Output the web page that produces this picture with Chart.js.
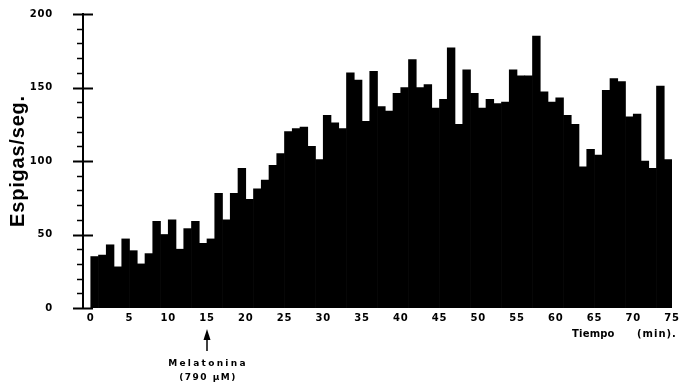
<!DOCTYPE html>
<html>
<head>
<meta charset="utf-8">
<script src="https://cdn.jsdelivr.net/npm/chart.js@4/dist/chart.umd.min.js"></script>
<style>
  html, body { margin: 0; padding: 0; background: #fff; }
  #wrap { width: 685px; height: 388px; }
</style>
</head>
<body>
<div id="wrap"><canvas id="c" width="685" height="388"></canvas></div>
<script>
// One-minute bins (start minute of each bin)
const minutos = [
  0, 1, 2, 3, 4, 5, 6, 7, 8, 9,
  10, 11, 12, 13, 14, 15, 16, 17, 18, 19,
  20, 21, 22, 23, 24, 25, 26, 27, 28, 29,
  30, 31, 32, 33, 34, 35, 36, 37, 38, 39,
  40, 41, 42, 43, 44, 45, 46, 47, 48, 49,
  50, 51, 52, 53, 54, 55, 56, 57, 58, 59,
  60, 61, 62, 63, 64, 65, 66, 67, 68, 69,
  70, 71, 72, 73, 74
];

// Mean firing rate in each bin (spikes per second)
const espigas = [
  35, 36, 43, 28, 47, 39, 30, 37, 59, 50,
  60, 40, 54, 59, 44, 47, 78, 60, 78, 95,
  74, 81, 87, 97, 105, 120, 122, 123, 110, 101,
  131, 126, 122, 160, 155, 127, 161, 137, 134, 146,
  150, 169, 150, 152, 136, 142, 177, 125, 162, 146,
  136, 142, 139, 140, 162, 158, 158, 185, 147, 140,
  143, 131, 125, 96, 108, 104, 148, 156, 154, 130,
  132, 100, 95, 151, 101
];

const tiempoTicks = [0, 5, 10, 15, 20, 25, 30, 35, 40, 45, 50, 55, 60, 65, 70, 75];
const espigasTicks = [0, 50, 100, 150, 200];
const minutoMelatonina = 15;

const smallFont = { family: 'DejaVu Sans', size: 10, weight: 'bold' };

// Letter spacing for the texts the chart draws
const spacingPlugin = {
  id: 'spacing',
  beforeDraw(chart) { chart.ctx.letterSpacing = '0.8px'; }
};

// Y-axis tick marks (long at labelled values, short every 10) and annotations
const marksPlugin = {
  id: 'marks',
  afterDraw(chart) {
    const ctx = chart.ctx;
    const y = chart.scales.y;
    const x = chart.scales.x;
    const axisX = chart.chartArea.left;
    ctx.save();
    ctx.strokeStyle = '#000';
    ctx.lineCap = 'butt';
    for (let v = y.min; v <= y.max; v += 10) {
      const py = Math.round(y.getPixelForValue(v)) + 0.5;
      ctx.beginPath();
      if (v % 50 === 0) {
        ctx.lineWidth = 2;
        ctx.moveTo(axisX - 10, py);
        ctx.lineTo(axisX + 10, py);
      } else {
        ctx.lineWidth = 1.5;
        ctx.moveTo(axisX - 6, py);
        ctx.lineTo(axisX, py);
      }
      ctx.stroke();
    }

    // Arrow marking the melatonin application
    const ax = x.getPixelForValue(minutoMelatonina);
    ctx.fillStyle = '#000';
    ctx.lineWidth = 1.5;
    ctx.beginPath();
    ctx.moveTo(ax, 338);
    ctx.lineTo(ax, 351);
    ctx.stroke();
    ctx.beginPath();
    ctx.moveTo(ax, 329);
    ctx.lineTo(ax - 3.5, 340);
    ctx.lineTo(ax + 3.5, 340);
    ctx.closePath();
    ctx.fill();

    ctx.font = 'bold 9px "DejaVu Sans"';
    ctx.textAlign = 'center';
    ctx.textBaseline = 'middle';
    ctx.letterSpacing = '2.3px';
    ctx.fillText('Melatonina', ax + 1, 364);
    ctx.letterSpacing = '1.5px';
    ctx.fillText('(790 \u00B5M)', ax + 1, 378);

    // Time axis caption
    ctx.font = 'bold 10px "DejaVu Sans"';
    ctx.textAlign = 'left';
    ctx.letterSpacing = '0.2px';
    ctx.fillText('Tiempo', 572, 334);
    ctx.letterSpacing = '1px';
    ctx.fillText('(min).', 637, 334);
    ctx.restore();
  }
};

new Chart(document.getElementById('c'), {
  type: 'bar',
  data: {
    datasets: [{
      label: 'Espigas/seg.',
      data: minutos.map((m, i) => ({ x: m + 0.5, y: espigas[i] })),
      backgroundColor: '#000',
      borderWidth: 0,
      barPercentage: 1,
      categoryPercentage: 1
    }]
  },
  options: {
    responsive: false,
    animation: false,
    layout: { autoPadding: false, padding: { top: 14, right: 13, left: 0, bottom: 0 } },
    plugins: { legend: { display: false }, tooltip: { enabled: false } },
    scales: {
      x: {
        type: 'linear',
        min: -1,
        max: 75,
        offset: false,
        grid: { display: false, drawTicks: false },
        border: { display: false },
        afterBuildTicks(scale) { scale.ticks = tiempoTicks.map(v => ({ value: v })); },
        afterFit(scale) { scale.height = 80; },
        ticks: {
          autoSkip: false,
          maxRotation: 0,
          padding: 4,
          color: '#000',
          font: smallFont
        }
      },
      y: {
        min: 0,
        max: 200,
        grid: { display: false, drawTicks: true, tickLength: 28 },
        border: { display: true, color: '#000', width: 2 },
        afterBuildTicks(scale) { scale.ticks = espigasTicks.map(v => ({ value: v })); },
        afterFit(scale) { scale.width = 83; },
        ticks: {
          padding: 2,
          color: '#000',
          font: smallFont
        },
        title: {
          display: true,
          text: 'Espigas/seg.',
          color: '#000',
          font: { family: 'Liberation Sans', size: 20, weight: 'bold' },
          padding: { top: 6, bottom: 0 }
        }
      }
    }
  },
  plugins: [spacingPlugin, marksPlugin]
});
</script>
</body>
</html>
